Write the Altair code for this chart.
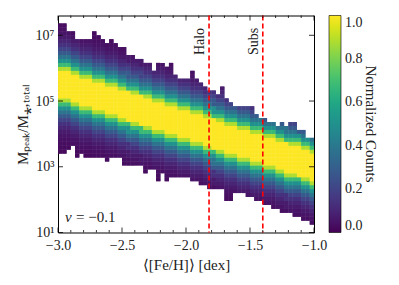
import altair as alt
import pandas as pd

# ---------------- data ----------------
X_MIN, X_MAX, N_X = -3.0, -1.0, 60          # <[Fe/H]> bins
LOG_Y_MIN, DLOG_Y, N_Y = 1.0, 0.12, 55      # log10(Mpeak/M*) bins

# ridge (centre of the yellow band), log10, per x column
RIDGE = [5.52, 5.48, 5.44, 5.39, 5.35, 5.31, 5.27, 5.22, 5.18, 5.14,
         5.10, 5.06, 5.01, 4.97, 4.93, 4.89, 4.84, 4.80, 4.76, 4.72,
         4.68, 4.63, 4.59, 4.55, 4.51, 4.47, 4.42, 4.38, 4.34, 4.30,
         4.25, 4.21, 4.17, 4.13, 4.09, 4.04, 4.00, 3.96, 3.92, 3.87,
         3.83, 3.79, 3.75, 3.71, 3.66, 3.62, 3.58, 3.54, 3.49, 3.45,
         3.41, 3.37, 3.33, 3.28, 3.24, 3.20, 3.16, 3.12, 3.07, 3.03]
# upper edge of occupied cells, log10
TOP = [7.31, 7.31, 7.16, 7.07, 6.92, 6.89, 6.89, 6.89, 7.16, 7.01,
       6.89, 6.77, 6.92, 6.71, 6.62, 6.65, 6.40, 6.40, 6.31, 6.31,
       6.16, 6.10, 5.92, 6.10, 6.19, 6.01, 6.19, 5.80, 5.64, 5.64,
       5.64, 5.89, 5.73, 5.58, 5.43, 5.34, 5.28, 5.25, 5.46, 5.04,
       4.95, 4.82, 4.89, 4.89, 4.89, 4.89, 4.58, 4.49, 4.49, 4.37,
       4.34, 4.22, 4.37, 4.22, 4.34, 4.34, 4.07, 4.07, 3.91, 3.82]
# lower edge of occupied cells, log10
BOTTOM = [3.37, 3.37, 3.52, 3.67, 3.28, 3.37, 3.22, 3.31, 3.22, 3.22,
          3.22, 3.12, 3.22, 3.22, 3.22, 3.00, 3.06, 3.06, 3.06, 3.06,
          2.76, 2.91, 2.91, 2.55, 2.76, 2.55, 2.70, 2.70, 2.70, 2.70,
          2.67, 2.52, 2.52, 2.40, 2.40, 2.31, 2.37, 2.37, 2.37, 2.00,
          2.00, 2.15, 2.15, 2.15, 2.06, 2.06, 1.91, 1.91, 1.79, 1.79,
          1.70, 1.70, 1.61, 1.61, 1.55, 1.49, 1.49, 1.39, 1.39, 1.30]
# normalized counts vs distance (in cells) from the ridge
PROFILE = [1.0, 1.0, 1.0, 1.0, 0.88, 0.68, 0.5, 0.38, 0.28, 0.2,
           0.14, 0.1, 0.07, 0.05, 0.04, 0.03, 0.025, 0.02]

LINES = [-1.82, -1.40]
LINE_LABELS = ["Halo", "Subs"]

X_MAJOR = [-3.0, -2.5, -2.0, -1.5, -1.0]
X_MINOR = [-2.9, -2.8, -2.7, -2.6, -2.4, -2.3, -2.2, -2.1, -1.9, -1.8,
           -1.7, -1.6, -1.4, -1.3, -1.2, -1.1]
Y_MAJOR = [1e1, 1e3, 1e5, 1e7]
CBAR_TICKS = [0.0, 0.2, 0.4, 0.6, 0.8, 1.0]

# ---------------- build table ----------------
rows = []
dx = (X_MAX - X_MIN) / N_X
for k in range(N_X):
    x0 = X_MIN + k * dx
    for j in range(N_Y):
        lc = LOG_Y_MIN + DLOG_Y * (j + 0.5)
        if BOTTOM[k] <= lc <= TOP[k]:
            d = int(round(abs(lc - RIDGE[k]) / DLOG_Y))
            v = PROFILE[min(d, len(PROFILE) - 1)]
            rows.append(dict(x=x0, x1=x0 + dx,
                             y=10 ** (lc - DLOG_Y / 2), y1=10 ** (lc + DLOG_Y / 2), v=v))
df = pd.DataFrame(rows)

W, H = 256, 217
FONT = "Liberation Serif"
xs = alt.Scale(domain=[X_MIN, X_MAX], nice=False, zero=False)
ys = alt.Scale(type="log", domain=[10, 4e7], nice=False)
cs = alt.Scale(scheme="viridis", domain=[0, 1])

XAX = alt.Axis(values=X_MAJOR, format=".1f", ticks=False, domain=False,
               grid=False, labelPadding=6, labelFlush=False,
               title="⟨[Fe/H]⟩ [dex]", titlePadding=5)
YAX = alt.Axis(values=Y_MAJOR, ticks=False, domain=False, grid=False,
               labelPadding=4, labelFlush=False,
               labelExpr="datum.value < 100 ? '10¹' : datum.value < 1e4 ? '10³' : datum.value < 1e6 ? '10⁵' : '10⁷'",
               title="Mₚₑₐₖ/M⁎,ₜₒₜₐₗ", titlePadding=5)
LEG = alt.Legend(type="gradient", orient="none", legendX=271, legendY=0,
                 direction="vertical", gradientLength=H,
                 gradientThickness=12, values=CBAR_TICKS,
                 format=".1f", title=None, labelFont=FONT,
                 labelFontSize=14, labelOffset=4, labelColor="#222",
                 gradientStrokeColor="black", gradientStrokeWidth=0.6)

def heat_layer():
    return alt.Chart(df).mark_rect(strokeWidth=0).encode(
        x=alt.X("x:Q", scale=xs, axis=XAX),
        x2="x1:Q",
        y=alt.Y("y:Q", scale=ys, axis=YAX),
        y2="y1:Q",
        color=alt.Color("v:Q", scale=cs, legend=LEG),
    )

line_df = pd.DataFrame({"x": LINES, "lab": LINE_LABELS})
vlines = alt.Chart(line_df).mark_rule(
    color="#ff0000", strokeWidth=1.6, strokeDash=[5, 3]
).encode(x=alt.X("x:Q", scale=xs, axis=XAX))

labels = alt.Chart(line_df).mark_text(
    angle=270, font=FONT, fontSize=14, align="center", baseline="bottom", dy=-2,
    color="#222"
).encode(x=alt.X("x:Q", scale=xs, axis=XAX), y=alt.value(26), text="lab:N")

xt_major = pd.DataFrame({"x": X_MAJOR})
xt_minor = pd.DataFrame({"x": X_MINOR})
yt_major = pd.DataFrame({"y": Y_MAJOR})

def xticks(data, length):
    b = alt.Chart(data).mark_rule(color="black", strokeWidth=0.8).encode(
        x=alt.X("x:Q", scale=xs, axis=XAX), y=alt.value(H), y2=alt.value(H - length))
    t = alt.Chart(data).mark_rule(color="black", strokeWidth=0.8).encode(
        x=alt.X("x:Q", scale=xs, axis=XAX), y=alt.value(0), y2=alt.value(length))
    return [b, t]

def yticks(data, length):
    l = alt.Chart(data).mark_rule(color="black", strokeWidth=0.8).encode(
        y=alt.Y("y:Q", scale=ys, axis=YAX), x=alt.value(0), x2=alt.value(length))
    r = alt.Chart(data).mark_rule(color="black", strokeWidth=0.8).encode(
        y=alt.Y("y:Q", scale=ys, axis=YAX), x=alt.value(W), x2=alt.value(W - length))
    return [l, r]

vtext1 = alt.Chart(pd.DataFrame({"t": ["v"]})).mark_text(
    font=FONT, fontSize=15, fontStyle="italic", align="left", baseline="middle",
    color="#222"
).encode(x=alt.value(7), y=alt.value(201), text="t:N")
vtext2 = alt.Chart(pd.DataFrame({"t": ["= −0.1"]})).mark_text(
    font=FONT, fontSize=15, align="left", baseline="middle", color="#222"
).encode(x=alt.value(18), y=alt.value(201), text="t:N")

cbar_title = alt.Chart(pd.DataFrame({"t": ["Normalized Counts"]})).mark_text(
    font=FONT, fontSize=15, angle=90, align="center", baseline="middle", color="#222"
).encode(x=alt.value(313), y=alt.value(H / 2), text="t:N")

chart = alt.layer(
    heat_layer(), heat_layer(), vlines, labels,
    *xticks(xt_major, 5), *xticks(xt_minor, 2.5),
    *yticks(yt_major, 5), vtext1, vtext2, cbar_title
).properties(
    width=W, height=H,
    autosize=alt.AutoSizeParams(type="none"),
    padding={"left": 50, "top": 7.5, "right": 77, "bottom": 44},
).configure_view(
    stroke="black", strokeWidth=1
).configure_axis(
    labelFont=FONT, titleFont=FONT, labelFontSize=14, titleFontSize=15,
    labelColor="#222", titleColor="#222", titleFontWeight="normal"
)

chart.save("out.html", embed_options={"renderer": "svg", "actions": False})
